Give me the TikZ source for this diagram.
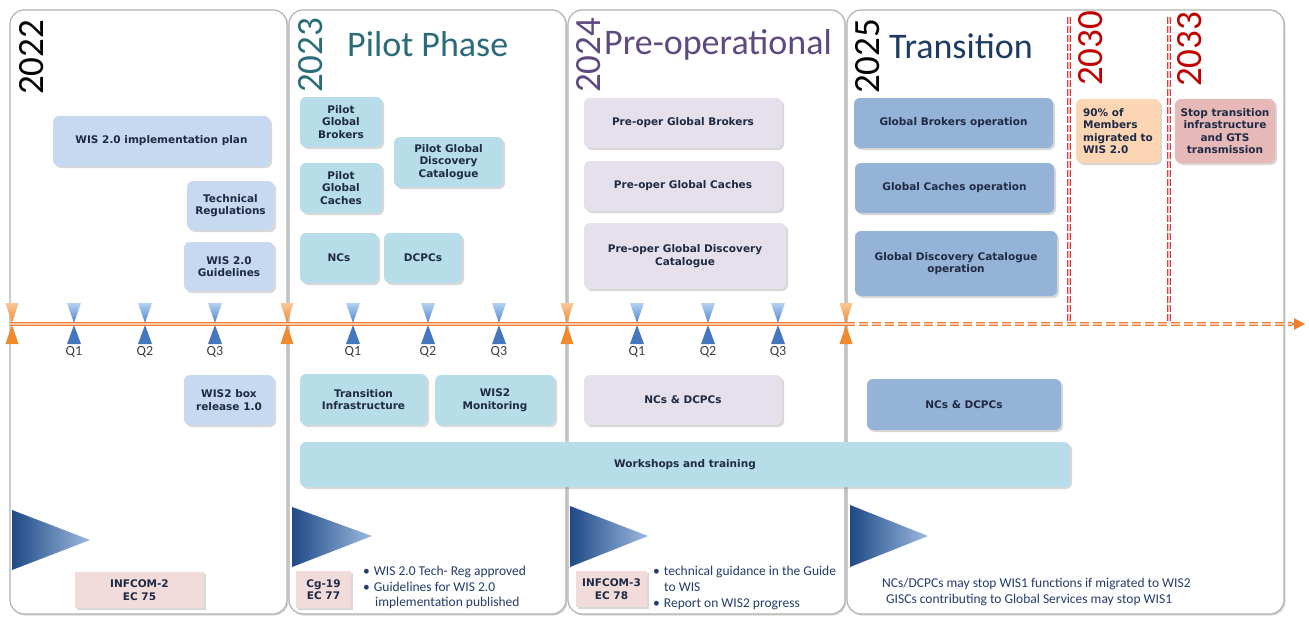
\documentclass[tikz,border=0pt]{standalone}
\usepackage{fontspec}
\setmainfont{Carlito}
\newfontfamily\vfont{DejaVu Sans}
\usetikzlibrary{shadows,arrows.meta}

\definecolor{txt}{HTML}{1F2A44}
\definecolor{bultxt}{HTML}{243C6A}
\definecolor{c22}{HTML}{C6D9F1}
\definecolor{c23}{HTML}{B7DDE8}
\definecolor{c24}{HTML}{E5E0EC}
\definecolor{c25}{HTML}{95B3D7}
\definecolor{cpeach}{HTML}{FCD5B5}
\definecolor{cpink}{HTML}{E6B9B8}
\definecolor{cpale}{HTML}{F2DCDB}
\definecolor{teal23}{HTML}{2C6C78}
\definecolor{purp24}{HTML}{5E4A80}
\definecolor{blue25}{HTML}{1F3B63}
\definecolor{yred}{HTML}{C00000}
\definecolor{tlcol}{HTML}{ED7D31}
\definecolor{tridark}{HTML}{1F4A86}
\definecolor{trilight}{HTML}{9DBAE0}
\definecolor{hgb1}{HTML}{B5D2F2}
\definecolor{hgb2}{HTML}{4F86CC}
\definecolor{hgb3}{HTML}{4677BE}
\definecolor{hgo1}{HTML}{F9C89A}
\definecolor{hgo2}{HTML}{EE8A33}
\definecolor{hgo3}{HTML}{F08A2C}
\definecolor{rdash}{HTML}{DC3A3F}

\tikzset{
  panel/.style={draw=gray!60, line width=1.2pt, rounded corners=14pt, fill=white,
    drop shadow={shadow xshift=1.5pt, shadow yshift=-1.5pt, opacity=0.3}},
  tbox/.style={rounded corners=6pt, inner sep=2pt, align=center, text=txt,
    font=\vfont\bfseries\fontsize{10.5}{12.5}\selectfont,
    drop shadow={shadow xshift=2pt, shadow yshift=-2pt, opacity=0.3}},
  sqbox/.style={tbox, rounded corners=0pt},
  year/.style={rotate=90, anchor=base west, inner sep=0pt, font=\fontsize{37}{37}\selectfont},
  phase/.style={anchor=base west, inner sep=0pt, font=\fontsize{36}{36}\selectfont},
  qlab/.style={font=\fontsize{14}{14}\selectfont, text=black!75},
  bul/.style={anchor=base west, inner sep=0pt, text=bultxt, font=\fontsize{13.5}{16}\selectfont},
  tlsolid/.style={draw=tlcol, double=tlcol!40, line width=0.9pt, double distance=1.5pt},
  tldash/.style={draw=tlcol, double=tlcol!40, line width=1.1pt, double distance=1.6pt, dash pattern=on 9pt off 4pt},
  reddash/.style={draw=rdash, double=rdash!35, line width=1pt, double distance=1.2pt, dash pattern=on 7pt off 2pt},
}

\begin{document}
\begin{tikzpicture}[x=1pt,y=-1pt]
\useasboundingbox (0,0) rectangle (1309,618);
\fill[white] (0,0) rectangle (1309,618);

% panels
\node[panel, minimum width=277, minimum height=604] (p22) at (148.5,312) {};
\node[panel, minimum width=277, minimum height=604] (p23) at (427.5,312) {};
\node[panel, minimum width=277, minimum height=604] (p24) at (706.5,312) {};
\node[panel, minimum width=437, minimum height=604] (p25) at (1065.5,312) {};

% years and phases
\node[year] (y22) at (43,95) {2022};
\node[year, text=teal23] (y23) at (322,93) {2023};
\node[year, text=purp24] (y24) at (600,93) {2024};
\node[year] (y25) at (879,94) {2025};
\node[year, text=yred] (y30) at (1102,86) {2030};
\node[year, text=yred] (y33) at (1201,87) {2033};
\node[phase, text=teal23] (ph23) at (347,57) {Pilot Phase};
\node[phase, text=purp24] (ph24) at (604,55) {Pre-operational};
\node[phase, text=blue25] (ph25) at (889,59) {Transition};

% red dashed verticals
\coordinate (r30a) at (1069,17); \coordinate (r30b) at (1069,323);
\coordinate (r33a) at (1169,17); \coordinate (r33b) at (1169,323);
\draw[reddash] (r30a) -- (r30b);
\draw[reddash] (r33a) -- (r33b);

% 2022 boxes
\node[tbox, fill=c22, minimum width=217, minimum height=50] (plan) at (161.5,141) {WIS 2.0 implementation plan};
\node[tbox, fill=c22, minimum width=87, minimum height=49] (techreg) at (230.5,205.5) {Technical\\Regulations};
\node[tbox, fill=c22, minimum width=90, minimum height=49] (guide) at (229,266.5) {WIS 2.0\\Guidelines};
\node[tbox, fill=c22, minimum width=90, minimum height=50] (wisbox) at (229,400) {WIS2 box\\release 1.0};

% 2023 boxes
\node[tbox, fill=c23, minimum width=82, minimum height=50] (pgb) at (341,122) {Pilot\\Global\\Brokers};
\node[tbox, fill=c23, minimum width=109, minimum height=50] (pgdc) at (448.5,162) {Pilot Global\\Discovery\\Catalogue};
\node[tbox, fill=c23, minimum width=82, minimum height=50] (pgc) at (341,188) {Pilot\\Global\\Caches};
\node[tbox, fill=c23, minimum width=78, minimum height=50] (ncs) at (339,258) {NCs};
\node[tbox, fill=c23, minimum width=78, minimum height=50] (dcpcs) at (423,258) {DCPCs};
\node[tbox, fill=c23, minimum width=127, minimum height=51] (transinf) at (363.5,399.5) {Transition\\Infrastructure};
\node[tbox, fill=c23, minimum width=120, minimum height=50] (mon) at (495,400) {WIS2\\Monitoring};
\node[tbox, fill=c23, minimum width=770, minimum height=45] (work) at (685,464.5) {Workshops and training};

% 2024 boxes
\node[tbox, fill=c24, minimum width=198, minimum height=50] (pogb) at (683,123) {Pre-oper Global Brokers};
\node[tbox, fill=c24, minimum width=198, minimum height=50] (pogc) at (683,186) {Pre-oper Global Caches};
\node[tbox, fill=c24, minimum width=202, minimum height=66] (pogdc) at (685,256) {Pre-oper Global Discovery\\Catalogue};
\node[tbox, fill=c24, minimum width=198, minimum height=50] (nd24) at (683,400) {NCs \& DCPCs};

% 2025 boxes
\node[tbox, fill=c25, minimum width=199, minimum height=50] (gbo) at (953.5,123) {Global Brokers operation};
\node[tbox, fill=c25, minimum width=199, minimum height=50] (gco) at (954.5,188) {Global Caches operation};
\node[tbox, fill=c25, minimum width=202, minimum height=65] (gdco) at (956,263.5) {Global Discovery Catalogue\\operation};
\node[tbox, fill=c25, minimum width=194, minimum height=51] (nd25) at (964,404.5) {NCs \& DCPCs};
\node[tbox, fill=cpeach, align=left, minimum width=84, minimum height=64] (m90) at (1118,131) {90\% of\\Members\\migrated to\\WIS 2.0};
\node[tbox, fill=cpink, minimum width=100, minimum height=64] (stop) at (1225,131) {Stop transition\\infrastructure\\and GTS\\transmission};

% bottom gradient triangles
\shade[left color=tridark, right color=trilight] (12,510) -- (90,540) -- (12,570) -- cycle;
\shade[left color=tridark, right color=trilight] (292,507) -- (372,536) -- (292,567) -- cycle;
\shade[left color=tridark, right color=trilight] (570,506) -- (648,536) -- (570,567) -- cycle;
\shade[left color=tridark, right color=trilight] (850,505) -- (928,536) -- (850,567) -- cycle;

% meeting boxes
\node[sqbox, fill=cpale, minimum width=129, minimum height=36] (inf2) at (139.5,590) {INFCOM-2\\EC 75};
\node[sqbox, fill=cpale, minimum width=55, minimum height=37] (cg19) at (323.5,589.5) {Cg-19\\EC 77};
\node[sqbox, fill=cpale, minimum width=71, minimum height=36] (inf3) at (611.5,589) {INFCOM-3\\EC 78};

% bullet texts
\node[bul] (b23a) at (363,575) {•\hspace{4pt}WIS 2.0 Tech- Reg approved};
\node[bul] (b23b) at (363,591) {•\hspace{4pt}Guidelines for WIS 2.0};
\node[bul] (b23c) at (375,606) {implementation published};
\node[bul] (b24a) at (653,575) {•\hspace{4pt}technical guidance in the Guide};
\node[bul] (b24b) at (664,591) {to WIS};
\node[bul] (b24c) at (653,607) {•\hspace{4pt}Report on WIS2 progress};
\node[bul] (b25a) at (882,587) {NCs/DCPCs may stop WIS1 functions if migrated to WIS2};
\node[bul] (b25b) at (886,603) {GISCs contributing to Global Services may stop WIS1};

% timeline markers
\foreach \x in {74,145,215,353,428,499,637,708,778} {
  \shade[top color=hgb1, bottom color=hgb2] (\x-7,303) -- (\x+7,303) -- (\x,323) -- cycle;
  \fill[hgb3] (\x-7,344) -- (\x+7,344) -- (\x,325) -- cycle;
}
\foreach \x in {12,287,567,846} {
  \shade[top color=hgo1, bottom color=hgo2] (\x-6.5,303) -- (\x+6.5,303) -- (\x,323) -- cycle;
  \fill[hgo3] (\x-6.5,344) -- (\x+6.5,344) -- (\x,325) -- cycle;
}
\foreach \x/\q [count=\i] in {74/Q1,145/Q2,215/Q3,353/Q1,428/Q2,499/Q3,637/Q1,708/Q2,778/Q3}
  \node[qlab] (q\i) at (\x,352) {\q};

% timeline
\coordinate (tl0) at (10,324);
\coordinate (tl1) at (846,324);
\coordinate (tl2) at (1292,324);
\coordinate (tl3) at (1305,324);
\draw[tlsolid] (tl0) -- (tl1);
\draw[tldash] (tl1) -- (tl2);
\draw[tlcol, line width=2.5pt, -{Triangle[length=11pt,width=11pt]}] (tl2) -- (tl3);
\end{tikzpicture}
\end{document}
